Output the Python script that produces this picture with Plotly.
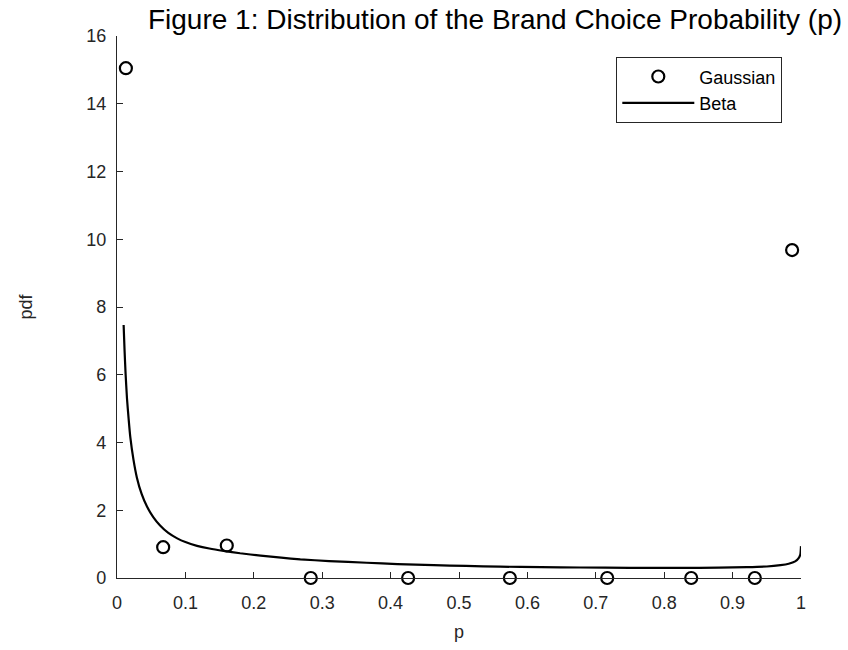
import plotly.graph_objects as go

# Gaussian (quadrature) points
gauss_p = [0.013, 0.0675, 0.1605, 0.2833, 0.4256, 0.5744, 0.7167, 0.8395, 0.9325, 0.987]
gauss_pdf = [15.05, 0.91, 0.96, 0.0, 0.0, 0.0, 0.0, 0.0, 0.0, 9.68]

# Beta density curve
beta_p = [0.0097, 0.011, 0.0125, 0.0146, 0.017, 0.0195, 0.024, 0.029, 0.036, 0.044,
          0.053, 0.063, 0.075, 0.088, 0.10, 0.117, 0.135, 0.156, 0.18, 0.21,
          0.24, 0.268, 0.31, 0.365, 0.41, 0.463, 0.51, 0.56, 0.62, 0.677,
          0.75, 0.823, 0.88, 0.921, 0.95, 0.97, 0.982, 0.9915, 0.996, 0.999, 1.0]
beta_pdf = [7.47, 6.75, 6.05, 5.3, 4.7, 4.15, 3.5, 2.97, 2.48, 2.10,
            1.80, 1.55, 1.33, 1.17, 1.06, 0.95, 0.87, 0.80, 0.73, 0.66,
            0.60, 0.55, 0.50, 0.45, 0.41, 0.38, 0.355, 0.335, 0.32, 0.31,
            0.30, 0.30, 0.305, 0.32, 0.34, 0.38, 0.42, 0.49, 0.57, 0.69, 0.94]

x_ticks = [0, 0.1, 0.2, 0.3, 0.4, 0.5, 0.6, 0.7, 0.8, 0.9, 1]
x_tick_text = ["0", "0.1", "0.2", "0.3", "0.4", "0.5", "0.6", "0.7", "0.8", "0.9", "1"]
y_ticks = [0, 2, 4, 6, 8, 10, 12, 14, 16]

FONT = "Liberation Sans, Arial, sans-serif"

fig = go.Figure()
fig.add_trace(go.Scatter(
    x=gauss_p, y=gauss_pdf, mode="markers", name="Gaussian",
    marker=dict(symbol="circle-open", size=12, color="black", line=dict(width=2.2, color="black")),
    cliponaxis=False,
))
fig.add_trace(go.Scatter(
    x=beta_p, y=beta_pdf, mode="lines", name="Beta",
    line=dict(color="black", width=2.2, shape="spline", smoothing=0.5),
    cliponaxis=False,
))

axis_font = dict(family=FONT, size=18, color="#262626")

fig.update_layout(
    width=848, height=650,
    margin=dict(l=117, r=47, t=36, b=72),
    paper_bgcolor="white", plot_bgcolor="white",
    font=dict(family=FONT, color="#262626"),
    title=dict(
        text="Figure 1: Distribution of the Brand Choice Probability (p)",
        x=495 / 848, xanchor="center", xref="container",
        y=1 - 19 / 650, yanchor="middle", yref="container",
        font=dict(family=FONT, size=28, color="black"),
    ),
    xaxis=dict(
        range=[0, 1], tickvals=x_ticks, ticktext=x_tick_text,
        showline=True, linecolor="#262626", linewidth=1.3,
        ticks="inside", ticklen=6, tickcolor="#262626", tickwidth=1,
        showgrid=False, zeroline=False, mirror=False,
        tickfont=axis_font, ticklabelstandoff=8,
        title=dict(text="p", font=axis_font, standoff=13),
    ),
    yaxis=dict(
        range=[0, 16], tickvals=y_ticks,
        showline=True, linecolor="#262626", linewidth=1.3,
        ticks="inside", ticklen=6, tickcolor="#262626", tickwidth=1,
        showgrid=False, zeroline=False, mirror=False,
        tickfont=axis_font, ticklabelstandoff=6,
        title=dict(text="pdf", font=axis_font, standoff=48),
    ),
    legend=dict(
        x=(782 - 117) / 684, xanchor="right",
        y=(578 - 57) / 542, yanchor="top",
        bgcolor="white", bordercolor="#262626", borderwidth=1.3,
        font=dict(family=FONT, size=18, color="black"),
        itemwidth=72,
        tracegroupgap=0,
    ),
    showlegend=True,
)

fig.write_html("out.html")
